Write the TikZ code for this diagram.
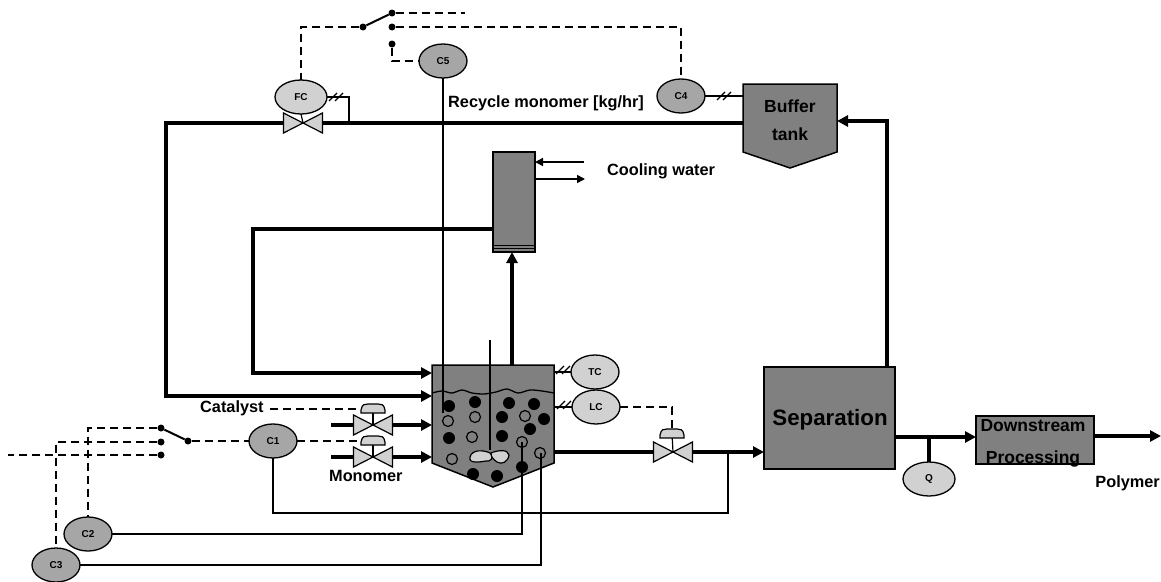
\documentclass[tikz,border=0pt]{standalone}
\usepackage{fontspec}
\setmainfont{Liberation Sans}
\usetikzlibrary{arrows.meta,shapes.geometric}

\definecolor{vessel-gray}{gray}{0.5}
\definecolor{control-gray}{gray}{0.65}
\definecolor{light-gray}{gray}{0.82}

\tikzstyle{vessel} = [draw, line width=1.5pt, fill=vessel-gray, rectangle, inner sep=0pt, outer sep=0pt]
\tikzstyle{controller} = [draw, line width=1.3pt, ellipse, fill=light-gray, minimum width=48pt, minimum height=34pt, inner sep=0pt, outer sep=0pt, font=\fontsize{10}{12}\selectfont\bfseries]
\tikzstyle{main-controller} = [controller, fill=control-gray]
\tikzstyle{valve-box} = [inner sep=0pt, outer sep=0pt, minimum width=39pt, minimum height=12pt]
\tikzstyle{pole} = [circle, fill=black, inner sep=0pt, minimum size=7pt]
\tikzstyle{txt} = [inner sep=0pt, font=\fontsize{16.3}{18}\selectfont\bfseries]
\tikzstyle{pipe} = [line width=4pt]
\tikzstyle{pipe-arrow} = [pipe, -{Triangle[length=11pt,width=11pt]}]
\tikzstyle{signal} = [line width=1.7pt]
\tikzstyle{signal-dash} = [line width=1.9pt, dash pattern=on 8pt off 5pt]

% bow tie of a valve, drawn on a valve-box node
\newcommand{\valvebody}[1]{
	\draw[line width=1.2pt, fill=light-gray] ([yshift=-10pt]#1.west) -- ([yshift=10pt]#1.east) -- ([yshift=-10pt]#1.east) -- ([yshift=10pt]#1.west) -- cycle;
}
% actuator above a valve
\newcommand{\valvedome}[2]{
	\draw[line width=1.2pt] (#1.center) -- (#2);
	\draw[line width=1.2pt, fill=light-gray] ([xshift=-12pt,yshift=-4pt]#2) -- ([xshift=-12pt,yshift=-1pt]#2) .. controls ([xshift=-11pt,yshift=5pt]#2) and ([xshift=-8pt,yshift=5pt]#2) .. ([xshift=-5pt,yshift=5pt]#2) -- ([xshift=5pt,yshift=5pt]#2) .. controls ([xshift=8pt,yshift=5pt]#2) and ([xshift=11pt,yshift=5pt]#2) .. ([xshift=12pt,yshift=-1pt]#2) -- ([xshift=12pt,yshift=-4pt]#2) -- cycle;
}
\newcommand{\ticks}[1]{
	\foreach \i in {-3,3}{%
		\draw[line width=1.3pt] ([xshift=\i pt - 4pt,yshift=-4pt]#1) -- ([xshift=\i pt + 4pt,yshift=4pt]#1);}
}

\begin{document}
\begin{tikzpicture}[x=1pt, y=-1pt]
	\useasboundingbox (0,0) rectangle (1161,581);

	% vessels
	\draw[vessel] (432,365) -- (554,365) -- (554,463) -- (493,487) -- (432,463) -- cycle;
	\draw[line width=1.3pt, line join=round] plot[smooth] coordinates {(432,393) (442,391) (452,393) (462,390) (472,393) (484,394) (496,392) (507,389) (518,393) (530,390) (542,391) (554,393)};
	\draw[vessel] (743,84) -- (837,84) -- (837,152) -- (790,168) -- (743,152) -- cycle;
	\node [vessel, minimum width=42pt, minimum height=100pt] (condenser) at (514,202) {};
	\foreach \i in {245,248}{%
		\draw[line width=1pt] (493,\i) -- (535,\i);}
	\node [vessel, minimum width=131pt, minimum height=102pt] (separation) at (829.5,418) {};
	\node [vessel, minimum width=118pt, minimum height=48pt] (downstream) at (1035,440) {};

	% connection points
	\coordinate (reactor-a) at (432,373);
	\coordinate (reactor-b) at (432,396);
	\coordinate (reactor-c) at (432,425);
	\coordinate (reactor-d) at (432,457);
	\coordinate (reactor-out) at (554,452);
	\coordinate (reactor-top) at (512,365);
	\coordinate (buffer-in) at (837,121);
	\coordinate (buffer-out) at (743,123);
	\coordinate (buffer-c4) at (743,96);
	\coordinate (cond-out) at (493,229);
	\coordinate (sep-top) at (887,367);
	\coordinate (sep-in) at (764,452);
	\coordinate (sep-out) at (895,437);
	\coordinate (poly-in) at (1094,436);
	\coordinate (poly-out) at (1161,436);
	\coordinate (tap) at (728,452);
	\coordinate (q-tap) at (929,437);
	\coordinate (catalyst-start) at (331,425);
	\coordinate (monomer-start) at (331,457);
	\coordinate (shaft-top) at (490,340);
	\coordinate (shaft-end) at (490,450);
	\coordinate (c5-end) at (443,413);
	\coordinate (c2-end) at (522,442);
	\coordinate (c3-end) at (541,453);
	\coordinate (free-top) at (465,13);
	\coordinate (free-left) at (8,455);
	\coordinate (catalyst-sig) at (270,409);
	\coordinate (catalyst-dome) at (373,409);
	\coordinate (monomer-dome) at (373,441);
	\coordinate (out-dome) at (672,434);
	\coordinate (water-in) at (584,162);
	\coordinate (water-in-end) at (535,162);
	\coordinate (water-out) at (535,179);
	\coordinate (water-out-end) at (585,179);
	\coordinate (fc-tap) at (349,123);

	% controllers
	\node [main-controller] (C1) at (273,441) {C1};
	\node [main-controller] (C2) at (88,534) {C2};
	\node [main-controller] (C3) at (56,565) {C3};
	\node [main-controller] (C4) at (681,96) {C4};
	\node [main-controller] (C5) at (443,61) {C5};
	\node [controller, minimum width=52pt] (FC) at (301,97) {FC};
	\node [controller] (TC) at (595,372) {TC};
	\node [controller] (LC) at (596,407) {LC};
	\node [controller, minimum width=52pt] (Q) at (929,479) {Q};

	% valves
	\node [valve-box] (valve-fc) at (303,123) {};
	\node [valve-box] (valve-cat) at (373,425) {};
	\node [valve-box] (valve-mon) at (373,457) {};
	\node [valve-box] (valve-out) at (673,452) {};

	% switch poles
	\node [pole] (sw1-in) at (188,441) {};
	\node [pole] (sw1-a) at (161,428) {};
	\node [pole] (sw1-b) at (161,442) {};
	\node [pole] (sw1-c) at (161,455) {};
	\node [pole] (sw2-in) at (363,27) {};
	\node [pole] (sw2-a) at (392,13) {};
	\node [pole] (sw2-b) at (392,27) {};
	\node [pole] (sw2-c) at (392,44) {};

	% pipes
	\draw[pipe] (buffer-out) -- (valve-fc.east);
	\draw[pipe-arrow] (valve-fc.west) -- (166,123) |- (reactor-b);
	\draw[pipe-arrow] (cond-out) -- (253,229) |- (reactor-a);
	\draw[pipe-arrow] (reactor-top) -- (condenser.south -| reactor-top);
	\draw[pipe-arrow] (sep-top) |- (buffer-in);
	\draw[pipe] (catalyst-start) -- (valve-cat.west);
	\draw[pipe-arrow] (valve-cat.east) -- (reactor-c);
	\draw[pipe] (monomer-start) -- (valve-mon.west);
	\draw[pipe-arrow] (valve-mon.east) -- (reactor-d);
	\draw[pipe] (reactor-out) -- (valve-out.west);
	\draw[pipe-arrow] (valve-out.east) -- (sep-in);
	\draw[pipe-arrow] (sep-out) -- (downstream.west |- sep-out);
	\draw[pipe] (q-tap) -- (Q.north);
	\draw[pipe-arrow] (poly-in) -- (poly-out);

	\draw[line width=1.5pt, -{Triangle[length=8pt,width=8pt]}] (water-in) -- (water-in-end);
	\draw[line width=1.5pt, -{Triangle[length=8pt,width=8pt]}] (water-out) -- (water-out-end);

	% measurements
	\draw[signal] (C1.south) -- ++(0,55) -| (tap);
	\draw[signal] (C2) -| (c2-end);
	\draw[signal] (C3) -| (c3-end);
	\draw[signal] (C5) -- (c5-end);
	\draw[signal] (shaft-top) -- (shaft-end);
	\draw[signal] (FC) -| (fc-tap);
	\draw[signal] (C4) -- (buffer-c4);
	\draw[signal] (TC.west) -- (TC.west -| reactor-out);
	\draw[signal] (LC.west) -- (LC.west -| reactor-out);

	\ticks{336,97}
	\ticks{724,96}
	\ticks{563,370}
	\ticks{564,405}

	% signals
	\draw[signal-dash] (sw1-in) -- (C1);
	\draw[signal-dash] (C1) -- (monomer-dome);
	\draw[signal-dash] (catalyst-sig) -- (catalyst-dome);
	\draw[signal-dash] (sw1-a) -| (C2);
	\draw[signal-dash] (sw1-b) -| (C3);
	\draw[signal-dash] (sw1-c) -- (free-left);
	\draw[signal-dash] (sw2-in) -| (FC);
	\draw[signal-dash] (sw2-a) -- (free-top);
	\draw[signal-dash] (sw2-b) -| (C4);
	\draw[signal-dash] (sw2-c) |- (C5);
	\draw[signal-dash] (LC) -| (out-dome);

	\draw[line width=2pt] (sw1-a) -- (sw1-in);
	\draw[line width=2pt] (sw2-in) -- (sw2-a);

	\valvedome{valve-cat}{catalyst-dome}
	\valvedome{valve-mon}{monomer-dome}
	\valvedome{valve-out}{out-dome}
	\valvebody{valve-fc}
	\valvebody{valve-cat}
	\valvebody{valve-mon}
	\valvebody{valve-out}
	\draw[line width=1.2pt] (FC.south) -- (valve-fc.center);

	% particles
	\foreach \x/\y in {449/406, 475/402, 509/403, 534/404, 502/417, 544/419, 530/429, 449/438, 502/436, 522/467, 473/474, 497/476}{%
		\fill (\x,\y) circle (6pt);}
	\foreach \x/\y in {448/421, 475/417, 525/416, 472/437, 522/442, 540/453, 452/459}{%
		\draw[line width=1.2pt] (\x,\y) circle (5.5pt);}

	% stirrer
	\draw[line width=1.2pt, fill=light-gray] (470,457) .. controls (472,449) and (484,450) .. (490,453) .. controls (495,458) and (490,462) .. (486,461) .. controls (480,462) and (468,464) .. cycle;
	\draw[line width=1.2pt, fill=light-gray] (491,453) .. controls (498,450) and (508,449) .. (509,455) .. controls (508,462) and (502,465) .. (497,462) .. controls (493,459) and (491,457) .. cycle;

	% labels
	\node [txt, anchor=west] (recycle-label) at (448,103) {Recycle monomer [kg/hr]};
	\node [txt, anchor=west] (water-label) at (607,171) {Cooling water};
	\node [txt, anchor=west] (catalyst-label) at (200,408) {Catalyst};
	\node [txt, anchor=west] (monomer-label) at (329,476) {Monomer};
	\node [txt, anchor=east] (polymer-label) at (1160,483) {Polymer};
	\node [txt, align=center, font=\fontsize{17.5}{28}\selectfont\bfseries] (buffer-label) at (790,120) {Buffer\\tank};
	\node [txt, font=\fontsize{22.3}{24}\selectfont\bfseries] (separation-label) at (830,420) {Separation};
	\node [txt, align=center, font=\fontsize{17.5}{32}\selectfont\bfseries] (downstream-label) at (1033,443) {Downstream\\Processing};
\end{tikzpicture}
\end{document}
